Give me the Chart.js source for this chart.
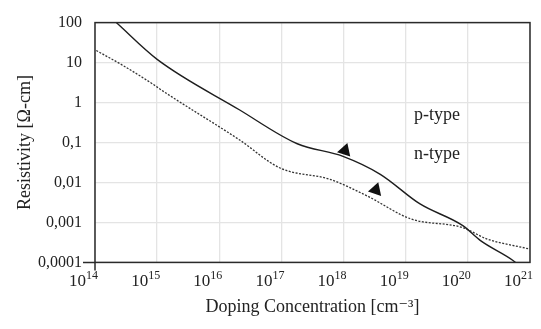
<!DOCTYPE html>
<html>
<head>
<meta charset="utf-8">
<script src="https://cdn.jsdelivr.net/npm/chart.js@4.4.1/dist/chart.umd.min.js"></script>
<style>
  html, body { margin: 0; padding: 0; background: #fff; }
  #wrap { width: 541px; height: 329px; }
</style>
</head>
<body>
<div id="wrap"><canvas id="chart"></canvas></div>
<script>
// Datos
const pConc = [2.2e14, 1e15, 2.1e16, 1.8e17, 9.8e17, 3.9e18, 1.7e19, 8.3e19, 1.6e20, 5.4e20, 5.8e20];
const pRes  = [100, 12, 0.66, 0.093, 0.045, 0.016, 0.0029, 0.00083, 0.00035, 0.00011, 0.0001];

const nConc = [1.05e14, 2.8e14, 8.5e14, 1.2e15, 2.1e16, 9.5e16, 6e17, 2.4e18, 1.2e19, 8.3e19, 2e20, 9.3e20];
const nRes  = [20, 8.5, 2.9, 2.0, 0.117, 0.023, 0.012, 0.0046, 0.00123, 0.00074, 0.00039, 0.00022];

const xTicks = [1e14, 1e15, 1e16, 1e17, 1e18, 1e19, 1e20, 1e21];
const xTickBase = '10';
const xTickExp = ['14', '15', '16', '17', '18', '19', '20', '21'];
const yTicks = [1e-4, 1e-3, 1e-2, 1e-1, 1, 10, 100];
const yTickLabels = ['0,0001', '0,001', '0,01', '0,1', '1', '10', '100'];

// Etiquetas y flechas
const seriesNames = ['p-type', 'n-type'];
const nameConc = [3.2e19, 3.2e19];
const nameRes  = [0.49, 0.05];
const arrowConc = [1.05e18, 3.3e18];
const arrowRes  = [0.063, 0.0065];

const FONT = '"Liberation Serif", "DejaVu Serif", serif';

const framePlugin = {
  id: 'frame',
  afterDraw(chart) {
    const { ctx, chartArea: a, scales } = chart;
    ctx.save();
    ctx.strokeStyle = '#2a2a2a';
    ctx.lineWidth = 1.5;
    ctx.strokeRect(a.left, a.top, a.right - a.left, a.bottom - a.top);
    // marcas en la esquina inferior izquierda
    ctx.beginPath();
    ctx.moveTo(a.left - 12, a.bottom);
    ctx.lineTo(a.left, a.bottom);
    ctx.lineTo(a.left, a.bottom + 8);
    ctx.stroke();

    // etiquetas del eje x: 10 con exponente
    ctx.fillStyle = '#222';
    ctx.textBaseline = 'alphabetic';
    xTicks.forEach((v, i) => {
      const x = scales.x.getPixelForValue(v);
      ctx.font = '12px ' + FONT;
      const we = ctx.measureText(xTickExp[i]).width;
      ctx.font = '17px ' + FONT;
      const wb = ctx.measureText(xTickBase).width;
      const right = Math.min(x + 3, chart.width - 4);
      ctx.textAlign = 'left';
      ctx.fillText(xTickBase, right - we - wb, a.bottom + 24);
      ctx.font = '12px ' + FONT;
      ctx.fillText(xTickExp[i], right - we, a.bottom + 17);
    });

    // nombres de las series
    ctx.font = '18px ' + FONT;
    ctx.textAlign = 'center';
    ctx.textBaseline = 'middle';
    seriesNames.forEach((name, i) => {
      const x = scales.x.getPixelForValue(nameConc[i]);
      const y = scales.y.getPixelForValue(nameRes[i]);
      ctx.fillText(name, x, y);
    });
    ctx.restore();
  }
};

const ctx = document.getElementById('chart').getContext('2d');
const chart = new Chart(ctx, {
  type: 'scatter',
  data: {
    datasets: [
      {
        label: 'p-type',
        data: pConc.map((c, i) => ({ x: c, y: pRes[i] })),
        showLine: true,
        borderColor: '#1e1e1e',
        borderWidth: 1.4,
        pointRadius: 0,
        cubicInterpolationMode: 'monotone'
      },
      {
        label: 'n-type',
        data: nConc.map((c, i) => ({ x: c, y: nRes[i] })),
        showLine: true,
        borderColor: '#333',
        borderWidth: 1.3,
        borderDash: [2, 1.5],
        pointRadius: 0,
        cubicInterpolationMode: 'monotone'
      },
      {
        label: 'arrows',
        data: arrowConc.map((c, i) => ({ x: c, y: arrowRes[i] })),
        showLine: false,
        pointStyle: 'triangle',
        pointRadius: 8,
        rotation: 18,
        backgroundColor: '#111',
        borderColor: '#111',
        borderWidth: 0
      }
    ]
  },
  options: {
    responsive: true,
    maintainAspectRatio: false,
    animation: false,
    layout: { padding: { top: 10, right: 11, left: 14, bottom: 11 } },
    plugins: {
      legend: { display: false },
      tooltip: { enabled: false }
    },
    scales: {
      x: {
        type: 'logarithmic',
        min: 1e14,
        max: 1e21,
        afterBuildTicks: axis => { axis.ticks = xTicks.map(v => ({ value: v })); },
        ticks: { display: false },
        grid: { color: '#e4e4e4', lineWidth: 1.3, drawTicks: false },
        border: { display: false },
        title: {
          display: true,
          text: 'Doping Concentration [cm⁻³]',
          color: '#222',
          font: { family: FONT, size: 18 },
          padding: { top: 34, bottom: 0 }
        }
      },
      y: {
        type: 'logarithmic',
        min: 1e-4,
        max: 100,
        afterBuildTicks: axis => { axis.ticks = yTicks.map(v => ({ value: v })); },
        afterFit: axis => { axis.width = 81; },
        ticks: {
          autoSkip: false,
          color: '#222',
          font: { family: FONT, size: 16 },
          padding: 13,
          callback: (v) => yTickLabels[yTicks.indexOf(v)]
        },
        grid: { color: '#e4e4e4', lineWidth: 1.3, drawTicks: false },
        border: { display: false },
        title: {
          display: true,
          text: 'Resistivity [Ω-cm]',
          color: '#222',
          font: { family: FONT, size: 18 },
          padding: { top: 0, bottom: 0 }
        }
      }
    }
  },
  plugins: [framePlugin]
});
</script>
</body>
</html>
